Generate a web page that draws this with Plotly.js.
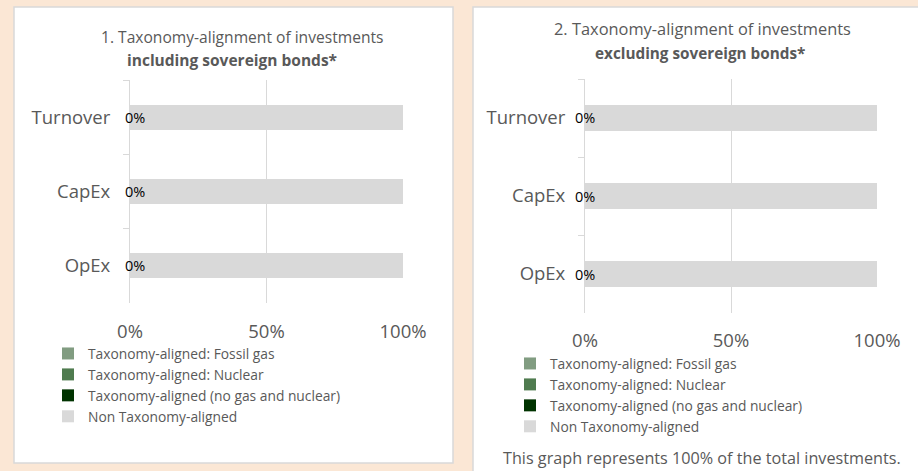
<!DOCTYPE html>
<html><head><meta charset="utf-8">
<script src="https://cdn.plot.ly/plotly-3.0.1.min.js"></script>
<style>html,body{margin:0;padding:0;background:#FBE7D5;} #chart{width:918px;height:471px;}</style>
</head><body><div id="chart"></div>
<script>
// ---- data ----
const categories = ['Turnover', 'CapEx', 'OpEx'];
const seriesNames = ['Taxonomy-aligned: Fossil gas', 'Taxonomy-aligned: Nuclear', 'Taxonomy-aligned (no gas and nuclear)', 'Non Taxonomy-aligned'];
// chart 1: including sovereign bonds
const incFossilGas = [0, 0, 0];
const incNuclear = [0, 0, 0];
const incAligned = [0, 0, 0];
const incNonAligned = [100, 100, 100];
// chart 2: excluding sovereign bonds
const excFossilGas = [0, 0, 0];
const excNuclear = [0, 0, 0];
const excAligned = [0, 0, 0];
const excNonAligned = [100, 100, 100];
const xTickVals = [0, 50, 100];
const xTickText = ['0%', '50%', '100%'];
const title1 = ['1. Taxonomy-alignment of investments', 'including sovereign bonds*'];
const title2 = ['2. Taxonomy-alignment of investments', 'excluding sovereign bonds*'];
const footnote = 'This graph represents 100% of the total investments.';

// ---- style ----
const colors = ['#819C81', '#4F7B4F', '#003300', '#D9D9D9'];
const gray = '#595959';
const lineGray = '#D9D9D9';
const FONT = 'Open Sans, sans-serif';
const W = 918, H = 471;
const px = v => v / W;
const py = v => 1 - v / H;

function makeTraces(series, xa, ya, lg) {
  return series.map((vals, i) => ({
    type: 'bar', orientation: 'h', x: vals, y: categories, name: seriesNames[i],
    xaxis: xa, yaxis: ya, legend: lg, marker: {color: colors[i]},
    hoverinfo: 'skip'
  }));
}
const traces = [
  ...makeTraces([incFossilGas, incNuclear, incAligned, incNonAligned], 'x', 'y', 'legend'),
  ...makeTraces([excFossilGas, excNuclear, excAligned, excNonAligned], 'x2', 'y2', 'legend2')
];

function xAxis(dom, anchor, standoff) {
  return {
    domain: dom, anchor: anchor, range: [0, 100], tickvals: xTickVals, ticktext: xTickText,
    showgrid: true, gridcolor: lineGray, gridwidth: 1, zeroline: false, showline: false,
    ticks: '', ticklabelstandoff: standoff, tickfont: {family: FONT, size: 18.5, color: gray}, fixedrange: true
  };
}
function yAxis(dom, anchor) {
  return {
    domain: dom, anchor: anchor, type: 'category', categoryorder: 'array', categoryarray: categories,
    autorange: 'reversed', showgrid: false, zeroline: false, showline: true, linecolor: lineGray, linewidth: 1,
    ticks: 'outside', tickson: 'boundaries', ticklen: 6, tickcolor: lineGray, tickwidth: 1,
    ticklabelstandoff: 15, tickfont: {family: FONT, size: 18.5, color: gray}, fixedrange: true
  };
}

function labelAnns(vals, xa, ya, shift) {
  return vals.map((v, i) => ({
    x: v, y: categories[i], xref: xa, yref: ya, text: v + '%', showarrow: false,
    xanchor: 'center', yanchor: 'middle', xshift: shift,
    font: {family: FONT, size: 14.5, color: '#000000'}
  }));
}

const annotations = [
  ...labelAnns(incAligned, 'x', 'y', 5),
  ...labelAnns(excAligned, 'x2', 'y2', 0),
  {xref: 'paper', yref: 'paper', x: px(242), y: py(37), text: title1[0], showarrow: false, xanchor: 'center', yanchor: 'middle', font: {family: FONT, size: 15.6, color: gray}},
  {xref: 'paper', yref: 'paper', x: px(232), y: py(60), text: '<b>' + title1[1] + '</b>', showarrow: false, xanchor: 'center', yanchor: 'middle', font: {family: FONT, size: 15.5, color: gray}},
  {xref: 'paper', yref: 'paper', x: px(702), y: py(29), text: title2[0], showarrow: false, xanchor: 'center', yanchor: 'middle', font: {family: FONT, size: 16.4, color: gray}},
  {xref: 'paper', yref: 'paper', x: px(700), y: py(53), text: '<b>' + title2[1] + '</b>', showarrow: false, xanchor: 'center', yanchor: 'middle', font: {family: FONT, size: 15.3, color: gray}},
  {xref: 'paper', yref: 'paper', x: px(702), y: py(458), text: footnote, showarrow: false, xanchor: 'center', yanchor: 'middle', font: {family: FONT, size: 16.2, color: gray}}
];

const shapes = [
  {type: 'rect', xref: 'paper', yref: 'paper', x0: px(14), x1: px(453), y0: py(463), y1: py(7), fillcolor: '#FFFFFF', line: {color: lineGray, width: 1.5}, layer: 'below'},
  {type: 'rect', xref: 'paper', yref: 'paper', x0: px(473), x1: px(930), y0: py(480), y1: py(7), fillcolor: '#FFFFFF', line: {color: lineGray, width: 1.5}, layer: 'below'}
];

const legendBase = {
  orientation: 'v', traceorder: 'normal', bgcolor: 'rgba(0,0,0,0)', borderwidth: 0,
  font: {family: FONT, size: 13.8, color: gray}, xanchor: 'left', yanchor: 'top', tracegroupgap: 0
};

const layout = {
  width: W, height: H, autosize: false,
  margin: {l: 0, r: 0, t: 0, b: 0, pad: 0},
  paper_bgcolor: '#FBE7D5', plot_bgcolor: 'rgba(0,0,0,0)',
  barmode: 'stack', bargap: 0.665, hovermode: false, showlegend: true,
  xaxis: xAxis([px(130), px(403)], 'y', 15),
  yaxis: yAxis([py(303), py(80)], 'x'),
  xaxis2: xAxis([px(585), px(877)], 'y2', 14),
  yaxis2: yAxis([py(313), py(79)], 'x2'),
  legend: Object.assign({}, legendBase, {x: px(48), y: py(338)}),
  legend2: Object.assign({}, legendBase, {x: px(510), y: py(348)}),
  annotations: annotations,
  shapes: shapes
};

Plotly.newPlot('chart', traces, layout, {displayModeBar: false, staticPlot: true});
</script></body></html>
